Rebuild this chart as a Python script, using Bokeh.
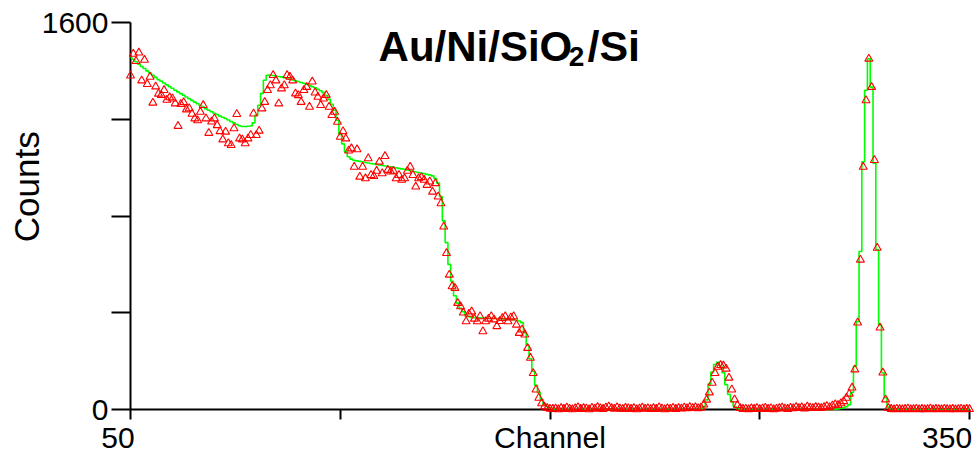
import math
from bokeh.plotting import figure
from bokeh.models import Range1d, FixedTicker, Label, ColumnDataSource
from bokeh.embed import file_html
from bokeh.resources import INLINE

# ---------------- data ----------------
channels = list(range(50, 351))

simulated = [
    1456, 1448, 1438, 1428, 1418, 1410, 1400, 1391, 1382, 1373,
    1364, 1357, 1350, 1342, 1335, 1328, 1320, 1313, 1306, 1299,
    1292, 1285, 1278, 1271, 1264, 1257, 1250, 1243, 1237, 1231,
    1225, 1219, 1213, 1208, 1203, 1197, 1191, 1185, 1178, 1173,
    1170, 1170, 1171, 1172, 1185, 1217, 1258, 1307, 1361, 1382,
    1383, 1381, 1379, 1377, 1375, 1372, 1369, 1366, 1362, 1359,
    1356, 1352, 1349, 1345, 1340, 1335, 1330, 1324, 1318, 1310,
    1298, 1282, 1262, 1237, 1196, 1137, 1098, 1065, 1045, 1035,
    1030, 1028, 1026, 1024, 1021, 1019, 1017, 1015, 1013, 1011,
    1009, 1007, 1005, 1003, 1001, 999, 997, 995, 993, 990,
    988, 985, 982, 980, 977, 975, 972, 970, 966, 955,
    936, 880, 780, 690, 600, 530, 470, 440, 418, 404,
    392, 384, 381, 380, 379, 379, 378, 378, 377, 377,
    376, 376, 375, 375, 374, 373, 372, 371, 370, 366,
    359, 318, 265, 210, 158, 100, 70, 42, 22, 12,
    6, 3, 1, 0, 0, 0, 0, 0, 0, 0,
    0, 0, 0, 0, 0, 0, 0, 0, 0, 0,
    0, 0, 0, 0, 0, 0, 0, 0, 0, 0,
    0, 0, 0, 0, 0, 0, 0, 0, 0, 0,
    0, 0, 0, 0, 0, 0, 0, 0, 0, 0,
    0, 0, 0, 1, 3, 12, 40, 105, 155, 186,
    195, 180, 152, 103, 62, 33, 13, 4, 1, 0,
    0, 0, 0, 0, 0, 0, 0, 0, 0, 0,
    0, 0, 0, 0, 0, 0, 0, 0, 0, 0,
    0, 0, 0, 0, 0, 0, 0, 0, 0, 0,
    0, 0, 1, 2, 4, 7, 12, 20, 70, 179,
    364, 653, 1024, 1320, 1450, 1333, 1018, 660, 350, 152,
    49, 10, 2, 0, 0, 0, 0, 0, 0, 0,
    0, 0, 0, 0, 0, 0, 0, 0, 0, 0,
    0, 0, 0, 0, 0, 0, 0, 0, 0, 0,
    0,
]

measured = [
    1380, 1470, 1440, 1475, 1360, 1445, 1345, 1375, 1268, 1335,
    1305, 1300, 1320, 1280, 1290, 1285, 1265, 1172, 1262, 1270,
    1240, 1245, 1222, 1203, 1195, 1230, 1258, 1203, 1143, 1190,
    1203, 1175, 1150, 1116, 1148, 1100, 1093, 1162, 1221, 1120,
    1116, 1100, 1120, 1134, 1223, 1134, 1152, 1244, 1271, 1320,
    1340, 1382, 1360, 1265, 1327, 1340, 1382, 1375, 1360, 1306,
    1299, 1271, 1320, 1333, 1251, 1355, 1310, 1292, 1258, 1285,
    1300, 1251, 1217, 1230, 1189, 1127, 1150, 1120, 1070, 1079,
    1003, 1075, 962, 1003, 955, 1038, 969, 965, 986, 1024,
    976, 1047, 990, 983, 986, 955, 969, 949, 955, 986,
    1003, 969, 921, 955, 960, 949, 928, 942, 900, 935,
    880, 852, 756, 646, 557, 509, 502, 440, 426, 400,
    364, 395, 405, 375, 364, 385, 323, 364, 375, 385,
    372, 344, 365, 378, 385, 364, 380, 385, 350, 316,
    330, 309, 254, 213, 150, 82, 48, 25, 12, 6,
    3, 2, 4, 0, 6, 2, 8, 3, 0, 5,
    9, 2, 6, 4, 0, 7, 3, 10, 5, 2,
    8, 12, 6, 3, 9, 4, 1, 7, 5, 2,
    6, 0, 4, 8, 3, 5, 1, 6, 2, 9,
    4, 0, 5, 3, 7, 2, 6, 4, 8, 5,
    10, 6, 9, 5, 8, 20, 40, 70, 110, 150,
    176, 183, 181, 168, 131, 82, 41, 18, 6, 2,
    3, 0, 5, 2, 6, 1, 4, 7, 2, 5,
    0, 3, 6, 8, 4, 2, 7, 5, 10, 6,
    9, 4, 12, 8, 6, 10, 8, 6, 10, 14,
    9, 16, 21, 18, 25, 34, 48, 65, 90, 165,
    359, 619, 1003, 1278, 1450, 1333, 1031, 668, 338, 152,
    41, 6, 2, 0, 3, 1, 0, 2, 4, 0,
    1, 3, 0, 2, 0, 1, 4, 0, 2, 1,
    0, 3, 1, 0, 2, 0, 1, 3, 0, 2,
    1,
]

x_ticks = [50, 125, 200, 275, 350]
x_tick_labels = {50: "50\u00a0\u00a0\u00a0", 125: "", 200: "Channel", 275: "", 350: "350\u00a0"}
y_ticks = [0, 400, 800, 1200, 1600]
y_tick_labels = {0: "0", 400: "", 800: "", 1200: "", 1600: "1600"}
y_title = "\u00a0" * 6 + "Counts"

# ---------------- figure ----------------
FONT = "Liberation Sans"

p = figure(
    width=980, height=456,
    x_range=Range1d(50, 350), y_range=Range1d(0, 1600),
    output_backend="svg", toolbar_location=None,
    min_border_left=130, min_border_right=11,
    min_border_top=22, min_border_bottom=46,
)
p.grid.visible = False
p.outline_line_color = None
p.background_fill_color = "white"
p.border_fill_color = "white"

src = ColumnDataSource(dict(ch=channels, sim=simulated, meas=measured))

r_step = p.step("ch", "sim", source=src, mode="center", line_color="#00ff00", line_width=1.6)
r_pts = p.scatter("ch", "meas", source=src, marker="triangle", size=8,
                  line_color="#ff0000", fill_color=None, line_width=1.1)
r_step.level = "overlay"
r_pts.level = "overlay"

xa = p.xaxis[0]
ya = p.yaxis[0]
for ax in (xa, ya):
    ax.axis_line_color = "black"
    ax.axis_line_width = 2
    ax.major_tick_line_color = "black"
    ax.major_tick_line_width = 2
    ax.major_tick_in = 0
    ax.minor_tick_line_color = None
    ax.major_label_text_font = FONT
    ax.major_label_text_font_size = "30px"
    ax.major_label_text_color = "black"

xa.ticker = FixedTicker(ticks=x_ticks)
xa.major_label_overrides = x_tick_labels
xa.major_tick_out = 10
xa.major_label_standoff = 1

ya.ticker = FixedTicker(ticks=y_ticks)
ya.major_label_overrides = y_tick_labels
ya.major_tick_out = 19
ya.major_label_standoff = 3
ya.axis_label = y_title
ya.axis_label_text_font = FONT
ya.axis_label_text_font_size = "35px"
ya.axis_label_text_font_style = "normal"
ya.axis_label_text_color = "black"
ya.axis_label_standoff = -7

# chart title with subscript
p.add_layout(Label(x=138.7, y=1502, text="Au/Ni/SiO", text_align="left",
                   text_baseline="alphabetic", text_font=FONT, text_font_style="bold",
                   text_font_size="42px", text_color="black"))
p.add_layout(Label(x=206.7, y=1461, text="2", text_align="left",
                   text_baseline="alphabetic", text_font=FONT, text_font_style="bold",
                   text_font_size="28px", text_color="black"))
p.add_layout(Label(x=213.4, y=1502, text="/Si", text_align="left",
                   text_baseline="alphabetic", text_font=FONT, text_font_style="bold",
                   text_font_size="43px", text_color="black"))

open("out.html", "w").write(file_html(p, INLINE))
